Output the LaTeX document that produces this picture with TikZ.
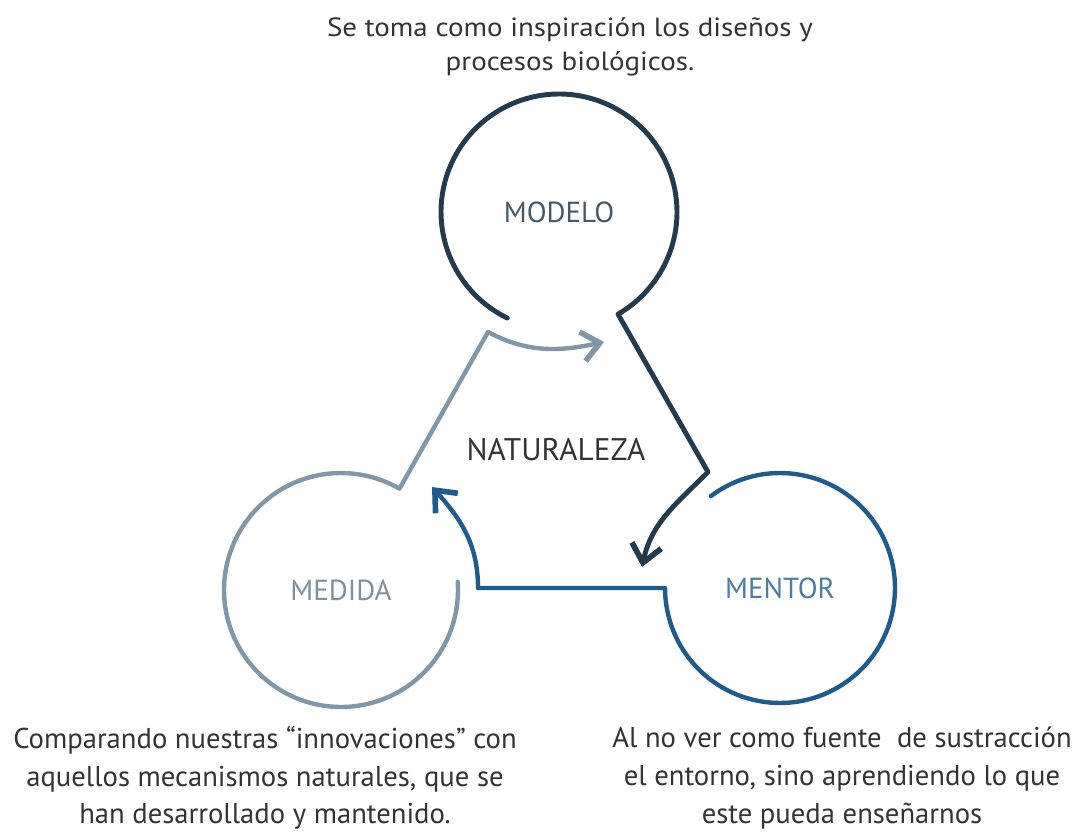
\documentclass[tikz,border=0pt]{standalone}
\usepackage{fontspec}
\setmainfont{PT Sans}
\newfontfamily\widefont[FakeStretch=1.1]{PT Sans}
\usetikzlibrary{arrows.meta}

\definecolor{modelocol}{HTML}{243B4E}
\definecolor{mentorcol}{HTML}{1F5B8C}
\definecolor{medidacol}{HTML}{8197A8}
\definecolor{infocol}{HTML}{333333}

\begin{document}
\begin{tikzpicture}[x=0.02cm,y=0.02cm]

    \tikzset{
      ring/.style = { circle, minimum size = #1, inner sep = 0pt,
                      outer sep = 0pt, font = \fontsize{16.5}{18}\selectfont },
      cycleline/.style = { line width = 2.5pt, line join = round, line cap = round,
                      -{Straight Barb[length=10pt,width=17pt,line width=3.2pt]} },
      info/.style = { align = center, text = infocol } }
    \useasboundingbox (0,0) rectangle (1084,831);

    % the three circles
    \node[ring=4.72cm, text=modelocol!85] (modelo) at (559,619) {MODELO};
    \node[ring=4.68cm, text=medidacol!95!black] (medida) at (341,241) {MEDIDA};
    \node[ring=4.60cm, text=mentorcol!80] (mentor) at (780,243) {MENTOR};
    \node[font=\fontsize{17.8}{20}\selectfont, text=infocol] (naturaleza) at (556,381) {NATURALEZA};

    \coordinate (k1) at (708,359);
    \coordinate (a1) at (642,264);
    \coordinate (k2) at (478,243);
    \coordinate (a2) at (432,344);
    \coordinate (k3) at (488,499);
    \coordinate (a3) at (604,489);

    \draw[cycleline, modelocol, line width=2.8pt] (modelo.244) arc[start angle=244, end angle=-60, radius=2.36cm]
      -- (k1) to[out=225, in=78] (a1);
    \draw[cycleline, mentorcol] (mentor.127) arc[start angle=127, end angle=-180, radius=2.30cm]
      -- (k2) to[out=90, in=-48] (a2);
    \draw[cycleline, medidacol] (medida.4) arc[start angle=4, end angle=-300, radius=2.34cm]
      -- (k3) to[out=-28, in=192] (a3);

    % descriptions
    \node[info, font=\widefont\fontsize{15}{19.3}\selectfont] (tmodelo) at (570,784)
      {Se toma como inspiración los diseños y\\procesos biológicos.};
    \node[info, font=\fontsize{16.3}{21.4}\selectfont] (tmedida) at (265,53)
      {Comparando nuestras “innovaciones” con\\aquellos mecanismos naturales, que se\\han desarrollado y mantenido.};
    \node[info, font=\fontsize{16.3}{21.4}\selectfont] (tmentor) at (842,53)
      {Al no ver como fuente\ \ de sustracción\\el entorno, sino aprendiendo lo que\\este pueda enseñarnos};

\end{tikzpicture}
\end{document}
